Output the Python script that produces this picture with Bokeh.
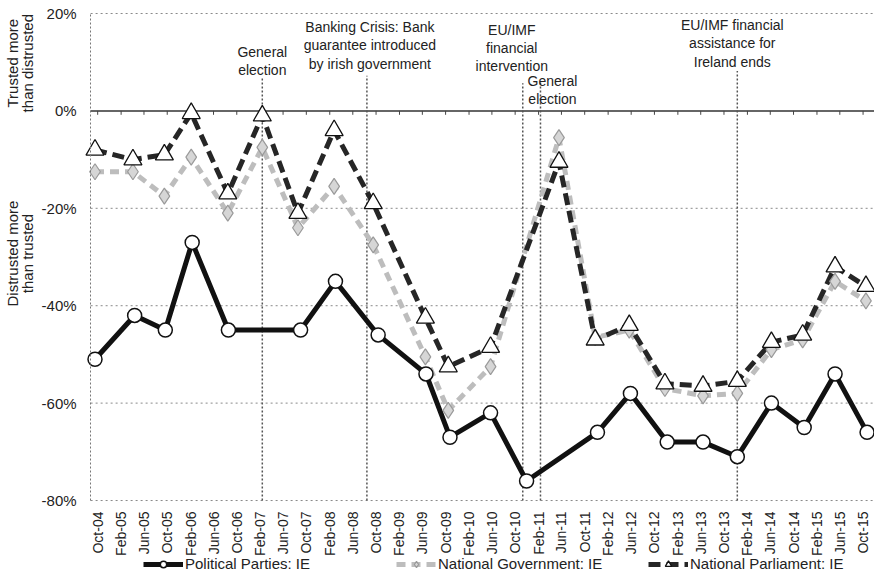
from datetime import datetime
import numpy as np
from bokeh.plotting import figure
from bokeh.models import (Range1d, FixedTicker, PrintfTickFormatter, Label,
                          Legend, LegendItem)
from bokeh.embed import file_html
from bokeh.resources import INLINE

# ---------------- data ----------------
tick_labels = ["Oct-04", "Feb-05", "Jun-05", "Oct-05", "Feb-06", "Jun-06", "Oct-06",
               "Feb-07", "Jun-07", "Oct-07", "Feb-08", "Jun-08", "Oct-08", "Feb-09",
               "Jun-09", "Oct-09", "Feb-10", "Jun-10", "Oct-10", "Feb-11", "Jun-11",
               "Oct-11", "Feb-12", "Jun-12", "Oct-12", "Feb-13", "Jun-13", "Oct-13",
               "Feb-14", "Jun-14", "Oct-14", "Feb-15", "Jun-15", "Oct-15"]

parties_dates = ["2004-09-17", "2005-04-13", "2005-09-21", "2006-02-09", "2006-08-18",
                 "2007-09-01", "2008-03-02", "2008-10-12", "2009-06-20", "2009-10-24",
                 "2010-05-25", "2010-11-30", "2011-12-07", "2012-05-28", "2012-12-07",
                 "2013-06-13", "2013-12-10", "2014-06-07", "2014-11-26", "2015-05-07",
                 "2015-10-22"]
parties_values = [-51, -42, -45, -27, -45, -45, -35, -46, -54, -67, -62, -76, -66, -58,
                  -68, -68, -71, -60, -65, -54, -66]

inst_dates = ["2004-09-17", "2005-04-04", "2005-09-16", "2006-02-04", "2006-08-15",
              "2007-02-12", "2007-08-18", "2008-02-24", "2008-09-16", "2009-06-17",
              "2009-10-15", "2010-05-25", "2011-05-19", "2011-11-25", "2012-05-22",
              "2012-11-25", "2013-06-13", "2013-12-10", "2014-06-07", "2014-11-18",
              "2015-05-07", "2015-10-16"]
government_values = [-12.5, -12.5, -17.5, -9.5, -21, -7.5, -24, -15.5, -27.5, -50.5, -61.5,
                     -52.5, -5.5, -46.5, -45, -57, -58.5, -58, -49, -47, -35, -39]
parliament_values = [-8, -10, -9, -0.5, -17, -1, -21, -4, -19, -42.5, -52.5, -48.5, -10.5,
                     -47, -44, -56, -56.5, -55.5, -47.5, -46, -32, -36]

series_names = ["Political Parties: IE", "National Government: IE", "National Parliament: IE"]

event_dates = ["2007-02-12", "2008-08-14", "2010-11-10", "2011-02-11", "2013-12-10"]
event_texts = ["General\nelection",
               "Banking Crisis: Bank\nguarantee introduced\nby irish government",
               "EU/IMF\nfinancial\nintervention",
               "General\nelection",
               "EU/IMF financial\nassistance for\nIreland ends"]

y_ticks = [-80, -60, -40, -20, 0, 20]

# ---------------- layout constants ----------------
PLOT_LEFT = "2004-08-25"                       # left edge of the plotting area
VIEW_X = ("2003-05-10", "2015-11-30")          # whole canvas
VIEW_Y = (-94.78, 22.67)
event_line_tops = [6.8, 7.2, 5.7, 6.2, 8.2]
event_text_y = [10.3, 13.5, 12.9, 4.3, 13.9]
event_text_dx = [0, 3, -11, 12, -5]
legend_x = [143, 396, 648]                     # px from canvas left
FONT = "Liberation Sans"


def ms(s):
    return float(np.datetime64(s, "ms").astype(np.int64))


tick_ms = [ms(datetime.strptime(t, "%b-%y").strftime("%Y-%m-%d")) for t in tick_labels]
px = [ms(d) for d in parties_dates]
ix = [ms(d) for d in inst_dates]
ex = [ms(d) for d in event_dates]
x_left, x_right = ms(PLOT_LEFT), ms(VIEW_X[1])

p = figure(frame_width=874, frame_height=572, output_backend="svg", toolbar_location=None,
           x_axis_type="datetime",
           x_range=Range1d(ms(VIEW_X[0]), ms(VIEW_X[1])),
           y_range=Range1d(*VIEW_Y),
           min_border=0)
p.outline_line_color = None
p.background_fill_color = "white"
p.xgrid.visible = False
p.ygrid.visible = False

# x axis (sits on the -80% line, labels below)
p.xaxis.fixed_location = y_ticks[0]
p.xaxis.ticker = FixedTicker(ticks=tick_ms)
p.xaxis.major_label_overrides = {t: l for t, l in zip(tick_ms, tick_labels)}
p.xaxis.major_label_orientation = np.pi / 2
p.xaxis.axis_line_color = None
p.xaxis.major_tick_line_color = None
p.xaxis.minor_tick_line_color = None
p.xaxis.major_label_standoff = 5
p.xaxis.major_label_text_font = FONT
p.xaxis.major_label_text_font_size = "14px"
p.xaxis.major_label_text_color = "#222222"

# y axis at the left edge of the plotting area
p.yaxis.fixed_location = x_left
p.yaxis.bounds = (y_ticks[0], y_ticks[-1])
p.yaxis.ticker = FixedTicker(ticks=y_ticks)
p.yaxis.formatter = PrintfTickFormatter(format="%d%%")
p.yaxis.axis_line_color = "#777777"
p.yaxis.axis_line_dash = "2 2"
p.yaxis.major_tick_line_color = None
p.yaxis.minor_tick_line_color = None
p.yaxis.major_label_standoff = 8
p.yaxis.major_label_text_font = FONT
p.yaxis.major_label_text_font_size = "15px"
p.yaxis.major_label_text_color = "#222222"

# horizontal dotted gridlines (plot area only) and solid zero line
grid_y = [t for t in y_ticks if t != 0]
p.segment(x0=[x_left] * len(grid_y), y0=grid_y, x1=[x_right] * len(grid_y), y1=grid_y,
          line_color="#8a8a8a", line_width=1, line_dash="2 3")
p.segment(x0=[x_left], y0=[0], x1=[x_right], y1=[0], line_color="#333333", line_width=1.5)
p.segment(x0=tick_ms, y0=[0] * len(tick_ms), x1=tick_ms, y1=[-0.8] * len(tick_ms),
          line_color="#444444", line_width=1)

# event lines and captions
p.segment(x0=ex, y0=[y_ticks[0]] * len(ex), x1=ex, y1=event_line_tops,
          line_color="#555555", line_width=1.5, line_dash="2 2")
for xv, txt, yv, dx in zip(ex, event_texts, event_text_y, event_text_dx):
    p.add_layout(Label(x=xv, y=yv, x_offset=dx, text=txt, text_align="center",
                       text_baseline="middle", text_font=FONT,
                       text_font_size="14px", text_line_height=1.15,
                       text_color="#222222"))

# series
gov_line = p.line(ix, government_values, line_color="#bdbdbd", line_width=5, line_dash="9 6")
parl_line = p.line(ix, parliament_values, line_color="#262626", line_width=5, line_dash="12 6")
pp_line = p.line(px, parties_values, line_color="#111111", line_width=5)
gov_mk = p.scatter(ix, government_values, marker="diamond", size=16,
                   fill_color="#d6d6d6", line_color="#9a9a9a", line_width=1.2)
parl_mk = p.scatter(ix, parliament_values, marker="triangle", size=18,
                    fill_color="white", line_color="#111111", line_width=1.3)
pp_mk = p.scatter(px, parties_values, marker="circle", size=14,
                  fill_color="white", line_color="#111111", line_width=1.5)

# y-axis titles
for txt, yv in [("Trusted more\nthan distrusted", 9.8), ("Distrusted more\nthan trusted", -29.3)]:
    p.add_layout(Label(x=19.5, x_units="screen", y=yv, y_units="data", angle=np.pi / 2,
                       text=txt, text_align="center", text_baseline="middle",
                       text_font=FONT, text_font_size="15px", text_line_height=0.9,
                       text_color="#222222"))

# legend entries below the axis labels
for name, rends, lx in zip(series_names,
                           [[pp_line, pp_mk], [gov_line, gov_mk], [parl_line, parl_mk]],
                           legend_x):
    lg = Legend(items=[LegendItem(label=name, renderers=rends)],
                orientation="horizontal", location=(lx, 0),
                label_text_font=FONT, label_text_font_size="15px",
                label_text_color="#222222", glyph_width=40, glyph_height=16,
                padding=2, margin=0, border_line_color=None,
                background_fill_alpha=0, label_standoff=2)
    p.add_layout(lg)

open("out.html", "w").write(file_html(p, INLINE))
